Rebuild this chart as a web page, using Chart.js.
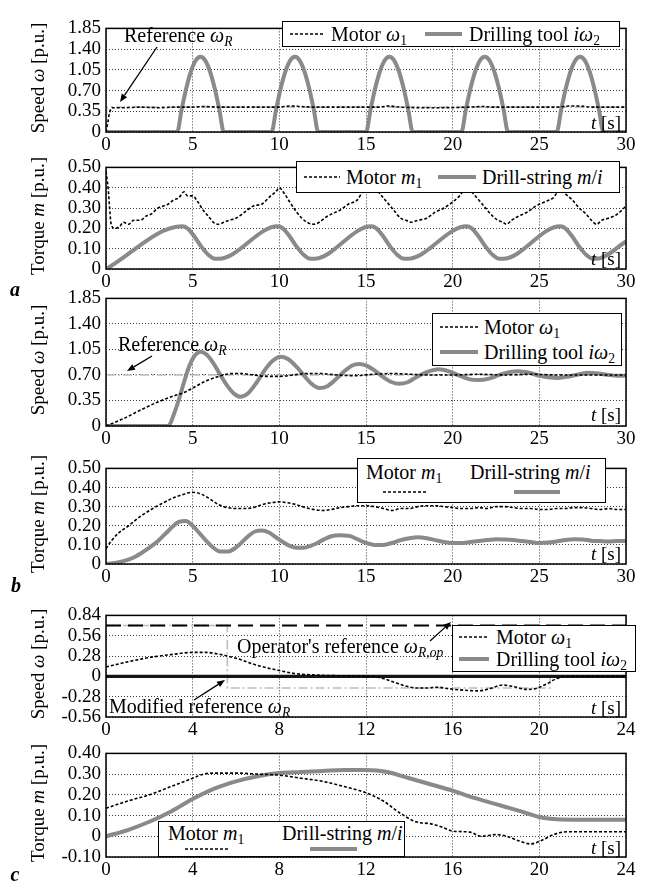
<!DOCTYPE html>
<html><head><meta charset="utf-8">
<script src="https://cdn.jsdelivr.net/npm/chart.js@4.4.1/dist/chart.umd.min.js"></script>
<style>
html,body{margin:0;padding:0;background:#fff;}
body{width:649px;height:885px;position:relative;overflow:hidden;font-family:"Liberation Serif", Tinos, "Times New Roman", serif;color:#000;}
canvas{position:absolute;left:0;}
.t{position:absolute;white-space:nowrap;line-height:1;font-size:19px;transform:translateY(-50%);font-family:"Liberation Serif", Tinos, serif;}
.box{position:absolute;border:1.5px solid #000;background:#fff;box-sizing:border-box;}
.yt{position:absolute;white-space:nowrap;line-height:1;font-size:19px;transform:translate(-50%,-50%) rotate(-90deg);font-family:"Liberation Serif", Tinos, serif;}
.lt{position:absolute;font-weight:bold;font-style:italic;font-size:20px;line-height:1;transform:translate(-50%,-50%);font-family:"Liberation Serif", Tinos, serif;}
i{font-style:italic;}
.sb{font-size:0.68em;position:relative;top:0.32em;}
svg.ov{position:absolute;pointer-events:none;}
</style></head><body>
<script>
const FONT = '"Liberation Serif", Tinos, serif';
const GRAY = '#8a8a8a', LIGHT = '#bdbdbd';

// ---------- tick values and labels ----------
const timeTicks30 = [0,5,10,15,20,25,30];
const timeTicks24 = [0,4,8,12,16,20,24];
const speedTicksAB = [0,0.35,0.70,1.05,1.40,1.75];
const speedTickLabelsAB = ['0','0.35','0.70','1.05','1.40','1.85'];
const torqueTicksAB = [0,0.1,0.2,0.3,0.4,0.5];
const torqueTickLabelsAB = ['0','0.10','0.20','0.30','0.40','0.50'];
const speedTicksC = [-0.56,-0.28,0,0.28,0.56,0.84];
const speedTickLabelsC = ['-0.56','-0.28','0','0.28','0.56','0.84'];
const torqueTicksC = [-0.1,0,0.1,0.2,0.3,0.4];
const torqueTickLabelsC = ['-0.10','0','0.10','0.20','0.30','0.40'];

// ---------- panel a : speed ----------
const aSpeedRefT = [0,0.05,30];
const aSpeedRefV = [0,0.42,0.42];
const aSpeedMotorT = [0,0.1,0.2,0.35,1,2,3,4,5,5.6,6.5,8,10,10.6,11.2,12,14,15.8,16.3,17,19,21,21.7,22.3,24,26,26.8,27.3,28,30];
const aSpeedMotorV = [0,0.15,0.32,0.41,0.41,0.42,0.41,0.42,0.42,0.43,0.42,0.42,0.42,0.44,0.43,0.42,0.42,0.42,0.44,0.42,0.41,0.42,0.43,0.42,0.42,0.42,0.44,0.44,0.42,0.42];
const aSpeedDrillT = [0,
  4.10,4.37,4.64,4.91,5.18,5.45,5.72,5.99,6.26,6.53,6.80,
  9.55,9.82,10.09,10.36,10.63,10.90,11.17,11.44,11.71,11.98,12.25,
  15.00,15.27,15.54,15.81,16.08,16.35,16.62,16.89,17.16,17.43,17.70,
  20.50,20.77,21.04,21.31,21.58,21.85,22.12,22.39,22.66,22.93,23.20,
  26.00,26.27,26.54,26.81,27.08,27.35,27.62,27.89,28.16,28.43,28.70,30];
const aSpeedDrillV = [0,
  0,0.39,0.75,1.03,1.21,1.27,1.21,1.03,0.75,0.39,0,
  0,0.39,0.75,1.03,1.21,1.27,1.21,1.03,0.75,0.39,0,
  0,0.39,0.75,1.03,1.21,1.27,1.21,1.03,0.75,0.39,0,
  0,0.39,0.75,1.03,1.21,1.27,1.21,1.03,0.75,0.39,0,
  0,0.39,0.75,1.03,1.21,1.27,1.21,1.03,0.75,0.39,0,0];

// ---------- panel a : torque ----------
const aTorqueMotorT = [0,0.12,0.3,0.5,0.8,1.0,1.3,1.6,2.0,2.3,2.6,3.0,3.3,3.6,3.9,4.2,4.5,4.7,5.0,5.3,5.6,5.9,6.2,6.5,6.8,7.1,7.5,8.0,8.5,9.0,9.5,9.8,10.0,10.3,10.6,11.0,11.3,11.6,12.0,12.3,12.6,13.0,13.5,14.0,14.5,14.8,15.0,15.3,15.6,15.9,16.2,16.6,17.0,17.3,17.6,18.0,18.5,19.0,19.5,20.0,20.4,20.8,21.1,21.4,21.8,22.2,22.6,22.9,23.1,23.4,23.8,24.3,24.8,25.3,25.8,26.2,26.5,26.9,27.3,27.7,28.0,28.3,28.6,29.0,29.5,30.0];
const aTorqueMotorV = [0.48,0.40,0.22,0.20,0.21,0.23,0.22,0.24,0.24,0.26,0.27,0.30,0.31,0.32,0.34,0.35,0.38,0.36,0.36,0.33,0.29,0.26,0.23,0.22,0.23,0.24,0.25,0.28,0.31,0.32,0.36,0.38,0.40,0.37,0.33,0.28,0.25,0.23,0.22,0.23,0.25,0.27,0.29,0.32,0.34,0.38,0.40,0.40,0.39,0.36,0.33,0.29,0.25,0.24,0.23,0.24,0.25,0.28,0.30,0.33,0.36,0.40,0.38,0.35,0.31,0.27,0.24,0.23,0.22,0.24,0.26,0.28,0.31,0.33,0.35,0.39,0.37,0.34,0.30,0.27,0.24,0.22,0.24,0.25,0.27,0.31];
const aTorqueDrillT = [0,4.4,4.7,5.1,5.5,5.9,6.3,6.5,9.9,10.2,10.6,11.0,11.4,11.8,12.0,15.3,15.6,16.0,16.4,16.8,17.2,17.4,20.8,21.1,21.5,21.9,22.3,22.7,22.9,26.2,26.5,26.9,27.3,27.7,28.1,28.3,30];
const aTorqueDrillV = [0,0.21,0.20,0.16,0.11,0.07,0.05,0.05,0.21,0.20,0.16,0.11,0.07,0.05,0.05,0.21,0.20,0.16,0.11,0.07,0.05,0.05,0.21,0.20,0.16,0.11,0.07,0.05,0.05,0.21,0.20,0.16,0.11,0.07,0.05,0.05,0.135];

// ---------- panel b : speed ----------
const bSpeedRefT = [0,30];
const bSpeedRefV = [0.70,0.70];
const bSpeedMotorT = [0,1,2,3,4,4.5,5,5.7,6.5,7.3,7.8,8.5,9.3,10,10.8,11.5,12.3,13.3,14.3,15.5,16.5,17.5,18.5,20,21.5,23,24.5,26,28,30];
const bSpeedMotorV = [0,0.10,0.22,0.33,0.42,0.46,0.52,0.61,0.68,0.72,0.72,0.70,0.68,0.68,0.70,0.72,0.72,0.70,0.69,0.71,0.72,0.71,0.70,0.70,0.71,0.70,0.71,0.70,0.70,0.70];
const bSpeedDrillT = [0,3.6,3.9,4.2,4.5,4.8,5.1,5.45,5.8,6.2,6.6,7.0,7.4,7.75,8.2,8.7,9.2,9.6,10.05,10.5,11.0,11.5,11.9,12.3,12.8,13.3,13.8,14.2,14.6,15.0,15.5,16.0,16.5,16.9,17.4,17.9,18.5,19.2,19.8,20.4,21.0,21.5,22.1,22.7,23.3,23.8,24.4,25.0,25.5,26.1,26.7,27.3,27.8,28.4,29.0,29.5,30];
const bSpeedDrillV = [0,0,0.15,0.36,0.60,0.82,0.96,1.02,0.98,0.86,0.70,0.55,0.44,0.40,0.45,0.60,0.78,0.89,0.95,0.92,0.81,0.67,0.57,0.52,0.55,0.65,0.76,0.83,0.85,0.83,0.76,0.67,0.60,0.58,0.60,0.67,0.74,0.78,0.75,0.69,0.64,0.63,0.65,0.70,0.74,0.75,0.73,0.69,0.67,0.66,0.68,0.71,0.73,0.72,0.70,0.69,0.69];

// ---------- panel b : torque ----------
const bTorqueMotorT = [0,0.3,0.7,1.3,2.0,2.7,3.3,4.0,4.5,5.0,5.5,6.0,6.5,7.0,7.5,8.0,8.5,9.0,9.5,10.0,10.5,11.0,11.5,12.0,12.5,13.0,13.5,14.0,14.5,15.0,15.5,16.0,16.5,17.0,17.5,18.0,18.5,19.0,19.5,20.0,20.5,21.0,21.5,22.0,22.5,23.0,23.5,24.0,24.5,25.0,25.5,26.0,26.5,27.0,27.5,28.0,28.5,29.0,29.5,30];
const bTorqueMotorV = [0.08,0.12,0.16,0.20,0.25,0.29,0.32,0.35,0.365,0.375,0.365,0.34,0.31,0.295,0.29,0.29,0.295,0.31,0.32,0.325,0.32,0.31,0.295,0.285,0.28,0.285,0.295,0.30,0.305,0.305,0.30,0.29,0.28,0.29,0.29,0.30,0.305,0.305,0.30,0.295,0.29,0.29,0.295,0.29,0.30,0.30,0.295,0.29,0.29,0.285,0.285,0.29,0.29,0.295,0.295,0.29,0.285,0.29,0.285,0.285];
const bTorqueDrillT = [0,0.5,1.0,1.5,2.0,2.5,3.0,3.5,3.9,4.2,4.6,5.0,5.4,5.8,6.2,6.6,7.0,7.4,7.8,8.2,8.6,9.0,9.4,9.8,10.2,10.6,11.0,11.4,11.8,12.2,12.6,13.0,13.5,14.0,14.5,15.0,15.5,16.0,16.5,17.0,17.5,18.0,18.5,19.0,19.5,20.0,20.5,21.0,21.5,22.0,22.5,23.0,23.5,24.0,24.5,25.0,25.5,26.0,26.5,27.0,27.5,28.0,28.5,29.0,29.5,30];
const bTorqueDrillV = [0,0.005,0.015,0.03,0.055,0.085,0.12,0.165,0.20,0.22,0.225,0.20,0.16,0.12,0.085,0.065,0.065,0.08,0.11,0.145,0.17,0.175,0.165,0.14,0.115,0.095,0.085,0.085,0.095,0.11,0.13,0.145,0.15,0.148,0.13,0.11,0.10,0.10,0.11,0.125,0.135,0.14,0.135,0.125,0.115,0.11,0.11,0.115,0.12,0.125,0.13,0.128,0.125,0.12,0.115,0.11,0.112,0.118,0.125,0.13,0.128,0.122,0.12,0.118,0.12,0.12];

// ---------- panel c : speed ----------
const cSpeedOpRefT = [0,24];
const cSpeedOpRefV = [0.70,0.70];
const cSpeedModRefT = [0,5.6,5.6,20.5,20.5,24];
const cSpeedModRefV = [0.70,0.70,-0.16,-0.16,0,0];
const cSpeedMotorT = [0,1,2,3,4,4.6,5.3,6,7,8,8.7,9.5,10.5,11.5,12.3,12.8,13.3,13.8,14.3,14.8,15.3,15.8,16.5,17.2,17.7,18.3,18.8,19.4,19.8,20.3,20.8,21.3,22,24];
const cSpeedMotorV = [0.13,0.20,0.26,0.30,0.33,0.33,0.30,0.25,0.15,0.08,0.04,0.02,0.01,0.005,0,-0.03,-0.08,-0.13,-0.16,-0.16,-0.15,-0.17,-0.19,-0.20,-0.17,-0.12,-0.14,-0.18,-0.17,-0.11,-0.03,0,0,0];
const cSpeedDrillT = [0,24];
const cSpeedDrillV = [0,0];

// ---------- panel c : torque ----------
const cTorqueMotorT = [0,1,2,3,4,4.5,5,6,7,8,9,10,11,12,12.8,13.6,14.3,15,15.5,16,16.8,17.3,18,18.5,19,19.6,20.1,20.7,21.3,24];
const cTorqueMotorV = [0.135,0.17,0.20,0.24,0.28,0.30,0.305,0.305,0.30,0.295,0.28,0.265,0.24,0.21,0.17,0.11,0.07,0.06,0.045,0.025,0.02,0.0,0.008,0.0,-0.02,-0.037,-0.02,0.01,0.022,0.022];
const cTorqueDrillT = [0,1,2,3,4,5,6,7,8,9,10,11,12,12.5,13,14,15,16,17,18,19,20,20.5,21.5,24];
const cTorqueDrillV = [0,0.03,0.07,0.12,0.18,0.23,0.265,0.29,0.305,0.31,0.315,0.32,0.32,0.318,0.31,0.28,0.25,0.22,0.185,0.155,0.125,0.093,0.085,0.08,0.08];

// ---------- styles ----------
const motorStyle = {borderColor:'#000', borderWidth:1.6, borderDash:[3,2], cubicInterpolationMode:'monotone'};
const drillStyle = {borderColor:GRAY, borderWidth:4, cubicInterpolationMode:'monotone'};
const refStyle = {borderColor:LIGHT, borderWidth:1.6, borderDash:[9,3,2,3]};
const opRefStyle = {borderColor:'#000', borderWidth:2, borderDash:[15,7]};
const zeroDrillStyle = {borderColor:'#151515', borderWidth:3.2};

function series(t, v, style){
  return Object.assign({data: t.map((x,i)=>({x:x, y:v[i]})), pointRadius:0, fill:false}, style);
}

const framePlugin = {
  id:'frame',
  afterDatasetsDraw(chart){
    const {ctx, chartArea:a} = chart;
    ctx.save();
    ctx.strokeStyle = '#000'; ctx.lineWidth = 1.5;
    ctx.strokeRect(a.left, a.top, a.right-a.left, a.bottom-a.top);
    ctx.restore();
  }
};

Chart.defaults.font.family = FONT;

function panel(cfg){
  const padTop = 12, xAxisH = 24;
  const H = cfg.bottom - cfg.top + padTop + xAxisH;
  const c = document.createElement('canvas');
  c.width = 649; c.height = H;
  c.style.top = (cfg.top - padTop) + 'px';
  c.style.width = '649px'; c.style.height = H + 'px';
  document.body.appendChild(c);
  const tickFont = {family:FONT, size:19};
  new Chart(c, {
    type:'line',
    data:{datasets: cfg.datasets},
    options:{
      responsive:false, animation:false,
      layout:{padding:{left:0, right:23, top:padTop, bottom:0}},
      plugins:{legend:{display:false}, tooltip:{enabled:false}},
      scales:{
        x:{type:'linear', min:cfg.xTicks[0], max:cfg.xTicks[cfg.xTicks.length-1],
          afterBuildTicks:s=>{ s.ticks = cfg.xTicks.map(v=>({value:v})); },
          afterFit:s=>{ s.height = xAxisH; },
          ticks:{font:tickFont, color:'#000', padding:2, maxRotation:0, autoSkip:false, callback:(v,i)=>String(cfg.xTicks[i])},
          grid:{color:'#3a3a3a', lineWidth:1, drawTicks:false},
          border:{display:false, dash:[1,2]}},
        y:{type:'linear', min:cfg.yTicks[0], max:cfg.yTicks[cfg.yTicks.length-1],
          afterBuildTicks:s=>{ s.ticks = cfg.yTicks.map(v=>({value:v})); },
          afterFit:s=>{ s.width = 106; },
          ticks:{font:tickFont, color:'#000', padding:5, autoSkip:false, callback:(v,i)=>cfg.yLabels[i]},
          grid:{color:'#3a3a3a', lineWidth:1, drawTicks:false},
          border:{display:false, dash:[1,2]}}
      }
    },
    plugins:[framePlugin]
  });
}

function drawAll(){
panel({top:24, bottom:132, xTicks:timeTicks30, yTicks:speedTicksAB, yLabels:speedTickLabelsAB,
  datasets:[series(aSpeedMotorT,aSpeedMotorV,motorStyle), series(aSpeedDrillT,aSpeedDrillV,drillStyle), series(aSpeedRefT,aSpeedRefV,refStyle)]});
panel({top:163, bottom:269, xTicks:timeTicks30, yTicks:torqueTicksAB, yLabels:torqueTickLabelsAB,
  datasets:[series(aTorqueMotorT,aTorqueMotorV,motorStyle), series(aTorqueDrillT,aTorqueDrillV,drillStyle)]});
panel({top:294, bottom:426, xTicks:timeTicks30, yTicks:speedTicksAB, yLabels:speedTickLabelsAB,
  datasets:[series(bSpeedMotorT,bSpeedMotorV,motorStyle), series(bSpeedDrillT,bSpeedDrillV,drillStyle), series(bSpeedRefT,bSpeedRefV,refStyle)]});
panel({top:464, bottom:564, xTicks:timeTicks30, yTicks:torqueTicksAB, yLabels:torqueTickLabelsAB,
  datasets:[series(bTorqueMotorT,bTorqueMotorV,motorStyle), series(bTorqueDrillT,bTorqueDrillV,drillStyle)]});
panel({top:611, bottom:717, xTicks:timeTicks24, yTicks:speedTicksC, yLabels:speedTickLabelsC,
  datasets:[series(cSpeedMotorT,cSpeedMotorV,motorStyle), series(cSpeedDrillT,cSpeedDrillV,zeroDrillStyle), series(cSpeedOpRefT,cSpeedOpRefV,opRefStyle), series(cSpeedModRefT,cSpeedModRefV,refStyle)]});
panel({top:749, bottom:857, xTicks:timeTicks24, yTicks:torqueTicksC, yLabels:torqueTickLabelsC,
  datasets:[series(cTorqueMotorT,cTorqueMotorV,motorStyle), series(cTorqueDrillT,cTorqueDrillV,drillStyle)]});

// ---------- overlays (text, legends, arrows) ----------
const NS = 'http://www.w3.org/2000/svg';
function el(tag, cls, html){ const d=document.createElement(tag); if(cls) d.className=cls; if(html!=null) d.innerHTML=html; d.style.fontFamily=FONT; document.body.appendChild(d); return d; }
function text(html, x, y, opt){
  opt = opt||{};
  const d = el('div','t',html);
  d.style.top = y+'px';
  if(opt.right!=null){ d.style.right = (649-opt.right)+'px'; } else { d.style.left = x+'px'; }
  if(opt.size) d.style.fontSize = opt.size+'px';
  return d;
}
function box(l,t,r,b){ const d=el('div','box'); d.style.left=l+'px'; d.style.top=t+'px'; d.style.width=(r-l)+'px'; d.style.height=(b-t)+'px'; }
function sample(x1,x2,y,kind){
  const s=document.createElementNS(NS,'svg'); s.setAttribute('class','ov');
  s.setAttribute('width',x2-x1); s.setAttribute('height',10);
  s.style.left=x1+'px'; s.style.top=(y-5)+'px';
  const l=document.createElementNS(NS,'line');
  l.setAttribute('x1',0); l.setAttribute('x2',x2-x1); l.setAttribute('y1',5); l.setAttribute('y2',5);
  if(kind==='dash'){ l.setAttribute('stroke','#000'); l.setAttribute('stroke-width',1.6); l.setAttribute('stroke-dasharray','3 2'); }
  else { l.setAttribute('stroke',GRAY); l.setAttribute('stroke-width',4); }
  s.appendChild(l); document.body.appendChild(s);
}
function ytitle(html, cy){ const d=el('div','yt',html); d.style.left='37px'; d.style.top=cy+'px'; }
function letter(ch, x, y){ const d=el('div','lt',ch); d.style.left=x+'px'; d.style.top=y+'px'; }

const W = '<i>&omega;</i>';
ytitle('Speed '+W+' [p.u.]', 78);
ytitle('Torque <i>m</i> [p.u.]', 216);
ytitle('Speed '+W+' [p.u.]', 360);
ytitle('Torque <i>m</i> [p.u.]', 514);
ytitle('Speed '+W+' [p.u.]', 664);
ytitle('Torque <i>m</i> [p.u.]', 803);
letter('a', 15, 289); letter('b', 16, 585); letter('c', 15, 874);

[122, 258, 414, 553, 707, 847].forEach(y=>text('<i>t</i> [s]', 0, y, {right:621}));

box(282,21,620,47);
sample(290,325,34,'dash'); text('Motor '+W+'<span class="sb">1</span>', 331, 34, {size:20});
sample(425,462,34,'gray'); text('Drilling tool <i>i</i>'+W+'<span class="sb">2</span>', 469, 34, {size:20});
box(296,161,620,193);
sample(304,340,177,'dash'); text('Motor <i>m</i><span class="sb">1</span>', 346, 177, {size:20});
sample(438,476,177,'gray'); text('Drill-string <i>m</i>/<i>i</i>', 482, 177, {size:20});
box(432,313,622,366);
sample(440,478,327,'dash'); text('Motor '+W+'<span class="sb">1</span>', 484, 327, {size:20});
sample(440,478,352,'gray'); text('Drilling tool <i>i</i>'+W+'<span class="sb">2</span>', 484, 352, {size:20});
box(357,458,606,503);
text('Motor <i>m</i><span class="sb">1</span>', 366, 472, {size:20});
text('Drill-string <i>m</i>/<i>i</i>', 470, 472, {size:20});
sample(383,428,492,'dash'); sample(514,560,492,'gray');
box(452,625,636,672);
sample(459,489,637,'dash'); text('Motor '+W+'<span class="sb">1</span>', 496, 637, {size:20});
sample(459,489,659,'gray'); text('Drilling tool <i>i</i>'+W+'<span class="sb">2</span>', 496, 659, {size:20});
box(158,821,405,857);
text('Motor <i>m</i><span class="sb">1</span>', 168, 833, {size:20});
text('Drill-string <i>m</i>/<i>i</i>', 282, 833, {size:20});
sample(185,230,849,'dash'); sample(310,357,849,'gray');

text('Reference '+W+'<i class="sb">R</i>', 124, 35, {size:20});
text('Reference '+W+'<i class="sb">R</i>', 118, 344, {size:20});
text('Operator\'s reference '+W+'<i class="sb">R,op</i>', 237, 646, {size:20});
text('Modified reference '+W+'<i class="sb">R</i>', 109, 706, {size:20});

const arrows = [[157,47,120,102],[152,356,127,371],[430,641,451,622],[194,700,225,680]];
const sv = document.createElementNS(NS,'svg'); sv.setAttribute('class','ov');
sv.setAttribute('width',649); sv.setAttribute('height',885); sv.style.left='0px'; sv.style.top='0px';
arrows.forEach(([x1,y1,x2,y2])=>{
  const dx=x2-x1, dy=y2-y1, L=Math.hypot(dx,dy), ux=dx/L, uy=dy/L;
  const hl=8, hw=3.2;
  const bx=x2-ux*hl, by=y2-uy*hl;
  const ln=document.createElementNS(NS,'line');
  ln.setAttribute('x1',x1); ln.setAttribute('y1',y1); ln.setAttribute('x2',bx); ln.setAttribute('y2',by);
  ln.setAttribute('stroke','#000'); ln.setAttribute('stroke-width',1.3);
  sv.appendChild(ln);
  const p=document.createElementNS(NS,'polygon');
  p.setAttribute('points',`${x2},${y2} ${bx-uy*hw},${by+ux*hw} ${bx+uy*hw},${by-ux*hw}`);
  p.setAttribute('fill','#000');
  sv.appendChild(p);
});
document.body.appendChild(sv);
}

if (document.fonts && document.fonts.load) {
  Promise.all([document.fonts.load('19px "Liberation Serif"'), document.fonts.load('italic 19px "Liberation Serif"')]).then(drawAll, drawAll);
} else { drawAll(); }
</script>
</body></html>
